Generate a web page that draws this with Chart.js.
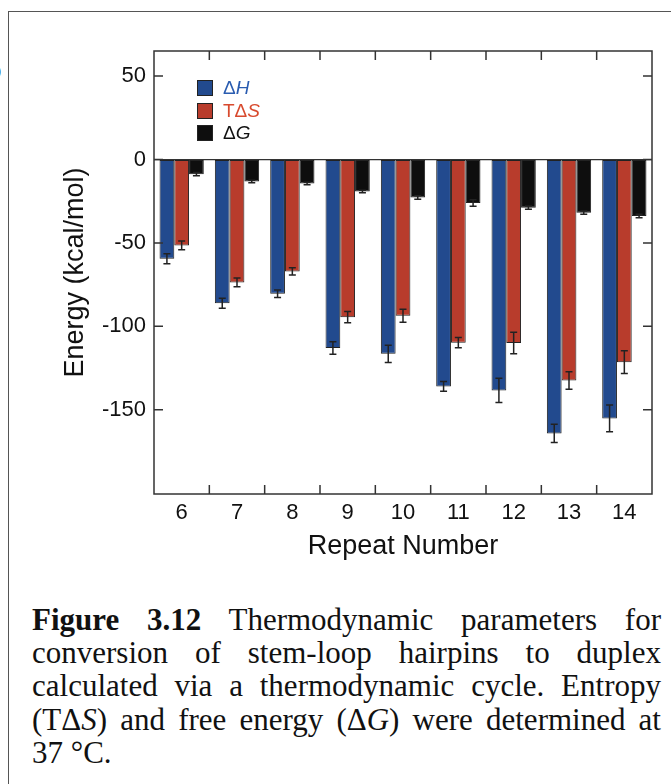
<!DOCTYPE html>
<html>
<head>
<meta charset="utf-8">
<script src="https://cdn.jsdelivr.net/npm/chart.js@4.4.1/dist/chart.umd.min.js"></script>
<style>
	body { margin: 0; background: #fff; width: 671px; height: 784px; overflow: hidden; position: relative; }
	.frame { position: absolute; left: 8px; top: 11px; width: 720px; height: 820px; border: 1.5px solid #555; box-sizing: border-box; }
	.chart_wrap { position: absolute; left: 0; top: 0; width: 671px; height: 590px; }
	.legend { position: absolute; left: 197px; top: 80px; font-family: 'Liberation Sans', Arial, sans-serif; font-size: 19px; }
	.legend div { height: 22.7px; position: relative; }
	.legend span.sw { position: absolute; left: 0; top: 0; width: 14px; height: 14px; border: 1px solid #222; }
	.legend span.tx { position: absolute; left: 26px; top: -3px; white-space: nowrap; }
	.caption { position: absolute; left: 32px; top: 603px; width: 629px; font-family: 'Liberation Serif', 'Times New Roman', serif; font-size: 31px; line-height: 33.2px; text-align: justify; color: #111; }
	.panel { position: absolute; left: -11px; top: 58px; font-family: 'Liberation Sans', Arial, sans-serif; font-size: 22px; color: #000; }
</style>
</head>
<body>
<div class="frame"></div>
<div class="panel">b</div>
<div class="chart_wrap"><canvas id="chart_energy"></canvas></div>
<div class="legend">
	<div><span class="sw" style="background:#224a8e"></span><span class="tx" style="color:#2a5cb0">&Delta;<i>H</i></span></div>
	<div><span class="sw" style="background:#b83c2c"></span><span class="tx" style="color:#d84a2e">T&Delta;<i>S</i></span></div>
	<div><span class="sw" style="background:#0e0e0e"></span><span class="tx" style="color:#111">&Delta;<i>G</i></span></div>
</div>
<div class="caption"><b>Figure 3.12</b> Thermodynamic parameters for conversion of stem-loop hairpins to duplex calculated via a thermodynamic cycle. Entropy (T&Delta;<i>S</i>) and free energy (&Delta;<i>G</i>) were determined at 37&nbsp;&deg;C.</div>
<script>
const labels = ['6', '7', '8', '9', '10', '11', '12', '13', '14'];

const dataDH = [-59.5, -86.2, -80.5, -113, -116.5, -136, -138.4, -164.2, -155.2];
const errDH = [3, 3, 2.2, 3.8, 5.2, 2.9, 7.2, 5.5, 8];
const dataTDS = [-51.5, -73.7, -67.1, -94.5, -93.7, -109.8, -110, -132.5, -121.5];
const errTDS = [2.6, 2.6, 2.2, 3.4, 3.9, 3.1, 6.5, 5.2, 6.8];
const dataDG = [-8.8, -13.2, -14.4, -19.2, -22.8, -26.1, -28.9, -31.9, -33.9];
const errDG = [1, 0.8, 0.8, 0.8, 1, 2, 1, 1, 1];

const yTicks = [50, 0, -50, -100, -150];

const ink = '#222';
const sans = "'Liberation Sans', Arial, sans-serif";

// error bars on top of each bar end
const errorBars = {
	id: 'errorBars',
	afterDatasetsDraw(chart) {
		const ctx = chart.ctx;
		const y = chart.scales.y;
		ctx.save();
		ctx.strokeStyle = ink;
		ctx.lineWidth = 1.5;
		chart.data.datasets.forEach((ds, di) => {
			const meta = chart.getDatasetMeta(di);
			meta.data.forEach((bar, i) => {
				const v = ds.data[i];
				const e = ds.errors[i];
				const y1 = y.getPixelForValue(v - e);
				const y2 = y.getPixelForValue(v + e);
				ctx.beginPath();
				ctx.moveTo(bar.x, y1);
				ctx.lineTo(bar.x, y2);
				ctx.moveTo(bar.x - 3.5, y1);
				ctx.lineTo(bar.x + 3.5, y1);
				ctx.moveTo(bar.x - 3.5, y2);
				ctx.lineTo(bar.x + 3.5, y2);
				ctx.stroke();
			});
		});
		ctx.restore();
	},
};

// box round the plot with inward ticks
const plotBox = {
	id: 'plotBox',
	afterDraw(chart) {
		const { ctx, chartArea: a, scales } = chart;
		const tl = 9;
		ctx.save();
		ctx.strokeStyle = '#333';
		ctx.lineWidth = 1.5;
		ctx.strokeRect(a.left, a.top, a.right - a.left, a.bottom - a.top);
		ctx.beginPath();
		yTicks.forEach(t => {
			const py = scales.y.getPixelForValue(t);
			ctx.moveTo(a.left, py);
			ctx.lineTo(a.left + tl, py);
			ctx.moveTo(a.right, py);
			ctx.lineTo(a.right - tl, py);
		});
		for (let i = 1; i < labels.length; i++) {
			const px = (scales.x.getPixelForValue(i - 1) + scales.x.getPixelForValue(i)) / 2;
			ctx.moveTo(px, a.top);
			ctx.lineTo(px, a.top + tl);
			ctx.moveTo(px, a.bottom);
			ctx.lineTo(px, a.bottom - tl);
		}
		ctx.stroke();
		ctx.restore();
	},
};

const energy = document.getElementById('chart_energy');

const chartEnergy = new Chart(energy, {
	type: 'bar',
	data: {
		labels: labels,
		datasets: [
			{ label: 'ΔH', data: dataDH, errors: errDH, backgroundColor: '#224a8e' },
			{ label: 'TΔS', data: dataTDS, errors: errTDS, backgroundColor: '#b83c2c' },
			{ label: 'ΔG', data: dataDG, errors: errDG, backgroundColor: '#0e0e0e' },
		],
	},
	plugins: [errorBars, plotBox],
	options: {
		responsive: true,
		maintainAspectRatio: false,
		animation: false,
		devicePixelRatio: 1,
		layout: { padding: { top: 51, right: 19, left: 0, bottom: 0 } },
		datasets: {
			bar: {
				categoryPercentage: 0.8,
				barPercentage: 1,
				borderColor: ink,
				borderWidth: 1,
				borderSkipped: false,
			},
		},
		plugins: {
			legend: { display: false },
			tooltip: { enabled: false },
		},
		scales: {
			x: {
				grid: { display: false },
				border: { display: false },
				ticks: {
					color: '#111',
					padding: -2,
					maxRotation: 0,
					font: { family: sans, size: 22 },
				},
				title: {
					display: true,
					text: 'Repeat Number',
					color: '#111',
					padding: { top: 0, bottom: 27 },
					font: { family: sans, size: 27 },
				},
				afterFit: scale => {
					scale.height = 96;
				},
			},
			y: {
				min: -200.5,
				max: 65,
				border: { display: false },
				grid: {
					drawTicks: false,
					lineWidth: 1.2,
					color: c => (c.tick && c.tick.value === 0 ? '#333' : 'rgba(0,0,0,0)'),
				},
				ticks: {
					color: '#111',
					padding: 8,
					font: { family: sans, size: 22 },
				},
				afterBuildTicks: scale => {
					scale.ticks = yTicks.map(v => ({ value: v }));
				},
				title: {
					display: true,
					text: 'Energy (kcal/mol)',
					color: '#111',
					padding: { top: 59, bottom: 0 },
					font: { family: sans, size: 27 },
				},
				afterFit: scale => {
					scale.width = 154;
				},
			},
		},
	},
});
</script>
</body>
</html>
